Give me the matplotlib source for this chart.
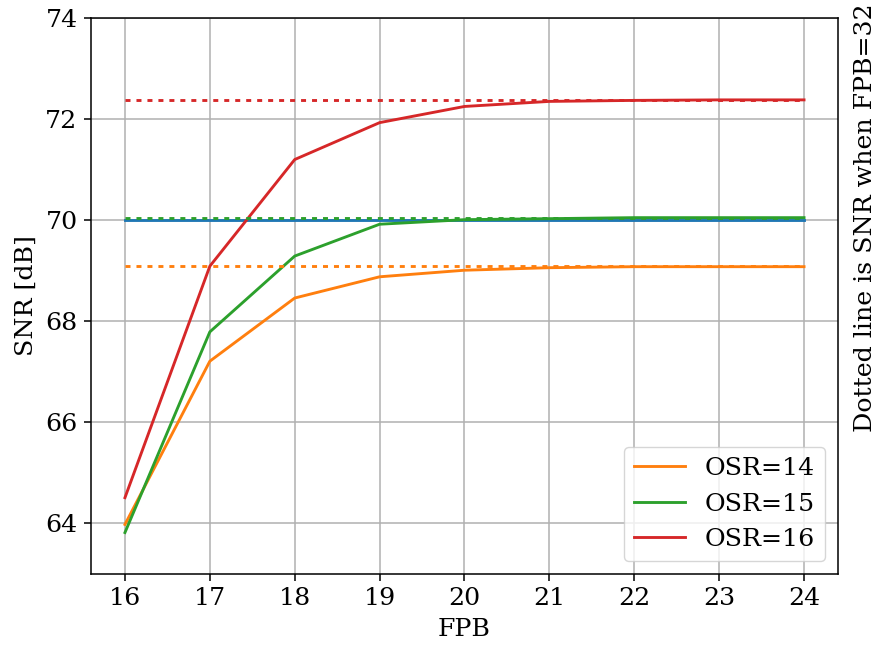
import matplotlib
matplotlib.use("Agg")
import matplotlib.pyplot as plt

fpb = [16, 17, 18, 19, 20, 21, 22, 23, 24]
snr_osr14 = [63.98, 67.21, 68.46, 68.88, 69.01, 69.06, 69.08, 69.08, 69.08]
snr_osr15 = [63.82, 67.79, 69.29, 69.92, 70.01, 70.03, 70.05, 70.05, 70.05]
snr_osr16 = [64.51, 69.09, 71.20, 71.93, 72.25, 72.35, 72.37, 72.38, 72.38]
ref32 = [69.09, 70.05, 72.38]
labels = ["OSR=14", "OSR=15", "OSR=16"]
colors = ["tab:orange", "tab:green", "tab:red"]
target = 70.0

s = 1.3765
plt.rcParams.update({
    "font.family": "DejaVu Serif",
    "font.size": 13.2 * s,
    "axes.linewidth": 0.8 * s,
    "xtick.major.size": 3.5 * s,
    "ytick.major.size": 3.5 * s,
    "xtick.major.width": 0.8 * s,
    "ytick.major.width": 0.8 * s,
    "xtick.major.pad": 3.5 * s,
    "ytick.major.pad": 3.5 * s,
    "grid.linewidth": 0.8 * s,
    "lines.linewidth": 1.5 * s,
    "axes.labelpad": 4 * s,
})

fig = plt.figure(figsize=(8.81, 6.5), dpi=100)
ax = fig.add_axes([91 / 881, 1 - 574 / 650, (838 - 91) / 881, (574 - 18) / 650])

ax.plot([fpb[0], fpb[-1]], [target, target], color="tab:blue")
series = [snr_osr14, snr_osr15, snr_osr16]
for ys, lab, c in zip(series, labels, colors):
    ax.plot(fpb, ys, color=c, label=lab)
lw = 1.5 * s
for r, c in zip(ref32, colors):
    ax.plot([fpb[0], fpb[-1]], [r, r], color=c,
            linestyle=(0, (3.6 / lw, 4.3 / lw)))

ax.set_ylim(63, 74)
ax.set_xlim(15.6, 24.4)
ax.set_xticks(fpb)
ax.set_yticks([64, 66, 68, 70, 72, 74])
ax.grid(True, color="#b0b0b0")
ax.set_axisbelow(True)
ax.set_xlabel("FPB")
ax.set_ylabel("SNR [dB]")
ax.legend(loc="lower right")

fig.text(866 / 881, 1 - 218 / 650, "Dotted line is SNR when FPB=32",
         rotation=90, ha="center", va="center")

fig.savefig("out.png", dpi=100)
